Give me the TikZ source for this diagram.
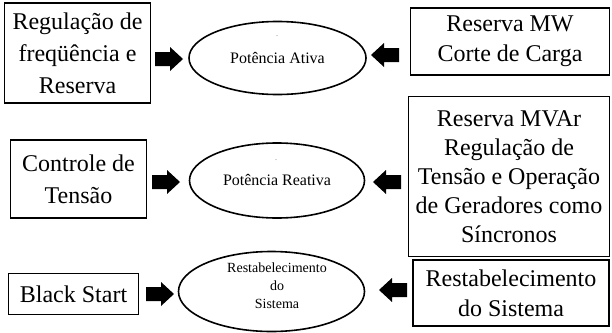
\documentclass[tikz,border=0pt]{standalone}
\usepackage{fontspec}
\setmainfont{Liberation Serif}
\usetikzlibrary{shapes.geometric}
\begin{document}
\begin{tikzpicture}[x=1pt,y=-1pt,
 box/.style={draw, line width=1.6pt, inner sep=0pt, align=center, font=\fontsize{24}{30}\selectfont},
 ell/.style={draw, ellipse, line width=1.6pt, inner sep=0pt, align=center, font=\fontsize{16}{20}\selectfont},
 etext/.style={inner sep=0pt, align=center, font=\fontsize{14}{18}\selectfont},
 dotlbl/.style={inner sep=0pt, font=\fontsize{6}{6}\selectfont},
 blockarrow/.pic={\fill (-14,-7) -- (1,-7) -- (1,-12) -- (14,0) -- (1,12) -- (1,7) -- (-14,7) -- cycle;}
]
\useasboundingbox (0,0) rectangle (612,332);

% boxes
\node[box, minimum width=146pt, minimum height=100pt, font=\fontsize{24}{32}\selectfont] (b1) at (77.5,53) {Regulação de\\freqüência e\\Reserva};
\node[box, minimum width=199pt, minimum height=67pt] (b2) at (510,41.5) {Reserva MW\\Corte de Carga};
\node[box, minimum width=201pt, minimum height=160pt, font=\fontsize{24}{29}\selectfont] (b3) at (509,176.5) {Reserva MVAr\\Regulação de\\Tensão e Operação\\de Geradores como\\Síncronos};
\node[box, minimum width=136pt, minimum height=78pt, font=\fontsize{24}{32}\selectfont] (b4) at (78.5,179) {Controle de\\Tensão};
\node[box, minimum width=130pt, minimum height=41pt] (b5) at (73.5,294) {Black Start};
\node[box, minimum width=196pt, minimum height=66pt] (b6) at (511,293) {Restabelecimento\\do Sistema};

% ellipses
\node[ell, minimum width=177pt, minimum height=73pt] (e1) at (277.5,58) {Potência Ativa};
\node[ell, minimum width=175pt, minimum height=75pt] (e2) at (277,180.5) {Potência Reativa};
\node[ell, minimum width=186pt, minimum height=80pt] (e3) at (271.5,291.5) {};
\node[etext] (t3) at (277,286) {Restabelecimento\\do\\Sistema};
\node[dotlbl] (d1) at (277,36) {.};
\node[dotlbl] (d2) at (276,160) {.};

% block arrows
\pic (r1) at (169,59) {blockarrow};
\pic[rotate=180] (l1) at (385,55) {blockarrow};
\pic (r2) at (166,182) {blockarrow};
\pic[rotate=180] (l2) at (387,182) {blockarrow};
\pic (r3) at (160,294) {blockarrow};
\pic[rotate=180] (l3) at (393,290) {blockarrow};
\end{tikzpicture}
\end{document}
